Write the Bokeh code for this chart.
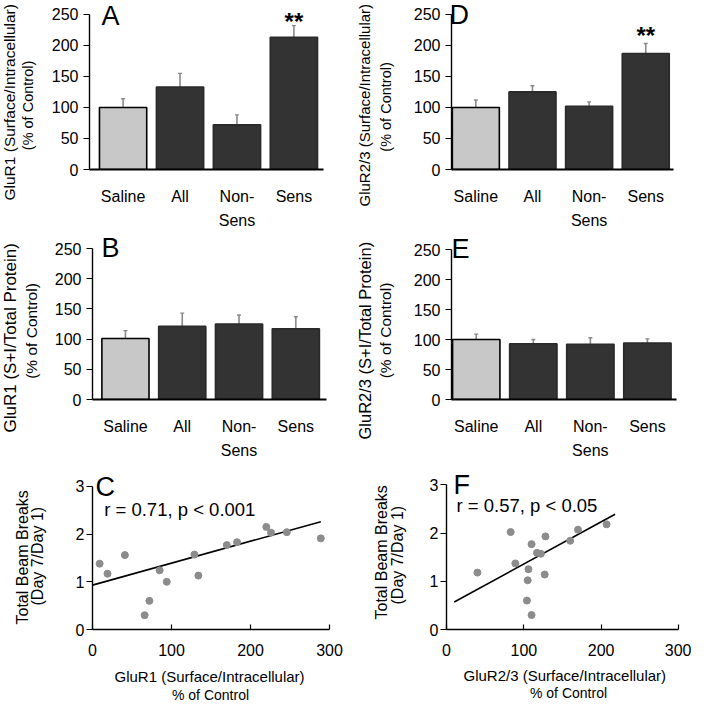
from bokeh.plotting import figure
from bokeh.models import Label, FixedTicker, Range1d, ColumnDataSource, Title
from bokeh.layouts import column, row
from bokeh.embed import file_html
from bokeh.resources import INLINE

FONT = "Liberation Sans"

# ---------------- data ----------------
categories = ["Saline", "All", "Non-\nSens", "Sens"]
cat_pos = [0, 1, 2, 3]

a_mean = [100, 133, 72, 213]
a_err = [14, 22, 16, 19]
b_mean = [101, 121, 125, 117]
b_err = [13, 22, 15, 20]
d_mean = [100, 125, 102, 187]
d_err = [12, 10, 7, 16]
e_mean = [100, 93, 92, 94]
e_err = [9, 7, 11, 7]

bar_ticks = [0, 50, 100, 150, 200, 250]

c_x = [9, 19, 41, 66, 72, 85, 94, 129, 134, 170, 183, 220, 226, 246, 289]
c_y = [1.38, 1.17, 1.56, 0.30, 0.60, 1.24, 1.00, 1.57, 1.13, 1.77, 1.83, 2.15, 2.03, 2.04, 1.91]
c_fit_x = [0, 289]
c_fit_y = [0.93, 2.26]

f_x = [40, 83, 89, 106, 105, 104, 110, 110, 117, 122, 127, 128, 160, 170, 207]
f_y = [1.18, 2.02, 1.37, 1.25, 1.02, 0.60, 0.30, 1.77, 1.59, 1.57, 1.14, 1.93, 1.84, 2.07, 2.18]
f_fit_x = [10, 218]
f_fit_y = [0.57, 2.39]

scatter_xticks = [0, 100, 200, 300]
scatter_yticks = [0, 1, 2, 3]

SALINE_FILL = "#c8c8c8"
DARK_FILL = "#333333"
ERR_COLOR = "#8a8a8a"
DOT_COLOR = "#8c8c8c"

# approximate font metrics (Liberation Sans), used only for placing texts
ASC, DESC = 0.905, 0.212
MID = (ASC - DESC) / 2


# ---------------- helpers ----------------
def make_fig(w, h, left, fw, fh, xr, ymax, top_px, zero_px, ybounds):
    yend = ymax * fh / (zero_px - top_px)
    p = figure(width=w, height=h, x_range=Range1d(*xr), y_range=Range1d(0, yend),
               min_border_left=left, min_border_top=0,
               min_border_right=w - left - fw, min_border_bottom=h - fh,
               output_backend="svg", toolbar_location=None, tools="", title=None)
    p.outline_line_color = None
    p.xgrid.visible = False
    p.ygrid.visible = False
    p.background_fill_color = "white"
    p.border_fill_color = "white"
    for ax in (p.xaxis[0], p.yaxis[0]):
        ax.axis_line_color = "black"
        ax.axis_line_width = 1.4
        ax.major_tick_line_color = "black"
        ax.major_tick_line_width = 1.2
        ax.minor_tick_line_color = None
        ax.major_label_text_font = FONT
        ax.major_label_text_font_size = "16px"
        ax.major_label_text_color = "black"
    p.yaxis.bounds = ybounds
    g = dict(left=left, top=0, fw=fw, fh=fh, xr=xr, yr=(0, yend))
    return p, g


def to_data(g, px, py):
    x0, x1 = g["xr"]
    y0, y1 = g["yr"]
    x = x0 + (px - g["left"]) / g["fw"] * (x1 - x0)
    y = y1 - (py - g["top"]) / g["fh"] * (y1 - y0)
    return x, y


def add_text(p, g, px, baseline_py, text, size, align="left", bold=False, data_x=None):
    # anchor on the middle of the em box, computed from the wanted baseline
    x, y = to_data(g, px, baseline_py - MID * size)
    if data_x is not None:
        x = data_x
    p.add_layout(Label(x=x, y=y, text=text, text_font=FONT,
                       text_font_size=f"{size}px",
                       text_align=align, text_baseline="middle",
                       text_font_style="bold" if bold else "normal",
                       text_color="black"))


def title(text, size, offset, standoff):
    return Title(text=text, align="left", offset=offset, standoff=standoff,
                 text_font=FONT, text_font_size=f"{size}px",
                 text_font_style="normal", text_color="black")


def left_titles(p, g, axis_w, inner, outer):
    """inner/outer: (text, size, baseline_px, start_px) ; rotated labels on the left."""
    xa = g["left"] - axis_w
    t_i, sz_i, base_i, start_i = inner
    t_o, sz_o, base_o, start_o = outer
    h_i = (ASC + DESC) * sz_i
    s_i = 2 * (xa - DESC * sz_i - base_i)
    inner_left = xa - 2 - h_i - s_i
    if inner_left < 0:
        s_i += inner_left
        inner_left = 0
    s_o = 2 * (inner_left - DESC * sz_o - base_o)
    bottom = g["fh"]
    p.add_layout(title(t_i, sz_i, bottom - start_i, s_i), "left")
    p.add_layout(title(t_o, sz_o, bottom - start_o, s_o), "left")


def below_titles(p, g, axis_h, first, second):
    """first/second: (text, size, baseline_px, start_x_px)"""
    top_edge = g["fh"] + axis_h
    t1, sz1, base1, x1 = first
    t2, sz2, base2, x2 = second
    s1 = 2 * (base1 - top_edge - 2 - ASC * sz1)
    edge2 = top_edge + 2 + (ASC + DESC) * sz1 + s1
    s2 = 2 * (base2 - edge2 - 2 - ASC * sz2)
    p.add_layout(title(t1, sz1, x1 - g["left"], s1), "below")
    p.add_layout(title(t2, sz2, x2 - g["left"], s2), "below")


def bar_panel(w, h, left, fw, fh, xr, top_px, zero_px, means, errs):
    p, g = make_fig(w, h, left, fw, fh, xr, 250, top_px, zero_px, (0, 250))
    tops = [m + e for m, e in zip(means, errs)]
    src = ColumnDataSource(dict(
        x=cat_pos, top=means, etop=tops,
        cap0=[x - 0.035 for x in cat_pos], cap1=[x + 0.035 for x in cat_pos],
        fill=[SALINE_FILL] + [DARK_FILL] * 3,
        line=["#000000"] + ["#2a2a2a"] * 3,
    ))
    p.segment(x0="x", y0="top", x1="x", y1="etop", source=src,
              line_color=ERR_COLOR, line_width=1.6)
    p.segment(x0="cap0", y0="etop", x1="cap1", y1="etop", source=src,
              line_color=ERR_COLOR, line_width=1.4)
    p.vbar(x="x", top="top", bottom=0, width=0.83, source=src,
           fill_color="fill", line_color="line", line_width=1.6)
    p.xaxis.ticker = FixedTicker(ticks=cat_pos)
    p.xaxis.major_label_overrides = {k: v for k, v in zip(cat_pos, categories)}
    p.xaxis.major_tick_out = 0
    p.xaxis.major_tick_in = 0
    p.xaxis.major_tick_line_color = None
    p.xaxis.major_label_standoff = 18
    p.xaxis.major_label_text_line_height = 1.45
    p.xaxis.axis_line_width = 1.8
    p.yaxis.ticker = FixedTicker(ticks=bar_ticks)
    p.yaxis.major_tick_out = 6
    p.yaxis.major_tick_in = 0
    p.yaxis.major_label_standoff = 5
    return p, g


def scatter_panel(w, h, left, fw, fh, top_px, zero_px, xs, ys, fx, fy):
    p, g = make_fig(w, h, left, fw, fh, (0, 300), 3, top_px, zero_px, (0, 3))
    p.line(fx, fy, line_color="black", line_width=1.6)
    p.scatter(xs, ys, size=7, fill_color=DOT_COLOR, line_color=DOT_COLOR)
    p.xaxis.ticker = FixedTicker(ticks=scatter_xticks)
    p.xaxis.major_tick_in = 5
    p.xaxis.major_tick_out = 0
    p.xaxis.major_label_standoff = 14
    p.yaxis.ticker = FixedTicker(ticks=scatter_yticks)
    p.yaxis.major_tick_out = 6
    p.yaxis.major_tick_in = 0
    p.yaxis.major_label_standoff = 2
    return p, g


LW, RW = 344, 347
H1, H2, H3 = 232, 232, 239
BAR_AXIS_W = 6 + 5 + 3 * 0.556 * 16
SC_AXIS_W = 6 + 2 + 0.556 * 16
SC_AXIS_H = 14 + (ASC + DESC) * 16

# ---------------- panel A ----------------
pA, gA = bar_panel(LW, H1, 89, 234, 170, (-0.59, 3.52), 14, 170, a_mean, a_err)
add_text(pA, gA, 101, 24.5, "A", 27)
add_text(pA, gA, 0, 29, "**", 24, align="center", bold=True, data_x=3)
left_titles(pA, gA, BAR_AXIS_W,
            ("(% of Control)", 14.5, 36, 150.7),
            ("GluR1 (Surface/Intracellular)", 15.5, 17, 201))

# ---------------- panel D ----------------
pD, gD = bar_panel(RW, H1, 107, 222, 171, (-0.43, 3.49), 14, 171, d_mean, d_err)
add_text(pD, gD, 105, 24.5, "D", 27)
add_text(pD, gD, 0, 44, "**", 24, align="center", bold=True, data_x=3)
left_titles(pD, gD, BAR_AXIS_W,
            ("(% of Control)", 14.5, 50, 153.2),
            ("GluR2/3 (Surface/Intracellular)", 15, 28, 208))

# ---------------- panel B ----------------
pB, gB = bar_panel(LW, H2, 92, 234, 167, (-0.58, 3.54), 16, 167, b_mean, b_err)
add_text(pB, gB, 101, 25, "B", 27)
left_titles(pB, gB, BAR_AXIS_W,
            ("(% of Control)", 15.5, 40, 146.3),
            ("GluR1 (S+I/Total Protein)", 17, 19, 200))

# ---------------- panel E ----------------
pE, gE = bar_panel(RW, H2, 107, 225, 167, (-0.434, 3.51), 17, 167, e_mean, e_err)
add_text(pE, gE, 107, 26, "E", 27)
left_titles(pE, gE, BAR_AXIS_W,
            ("(% of Control)", 15.5, 50, 145.8),
            ("GluR2/3 (S+I/Total Protein)", 16.5, 29, 207))

# ---------------- panel C ----------------
pC, gC = scatter_panel(LW, H3, 92, 237, 166, 22, 166, c_x, c_y, c_fit_x, c_fit_y)
add_text(pC, gC, 95, 32, "C", 27)
add_text(pC, gC, 103.7, 52, "r = 0.71, p < 0.001", 18.5)
left_titles(pC, gC, SC_AXIS_W,
            ("(Day 7/Day 1)", 16, 45, 142),
            ("Total Beam Breaks", 16, 29, 161))
below_titles(pC, gC, SC_AXIS_H,
             ("GluR1 (Surface/Intracellular)", 15, 221, 114),
             ("% of Control", 14, 236, 171.5))

# ---------------- panel F ----------------
pF, gF = scatter_panel(RW, H3, 102, 232, 165, 20, 164.7, f_x, f_y, f_fit_x, f_fit_y)
add_text(pF, gF, 109, 30, "F", 27)
add_text(pF, gF, 112, 47, "r = 0.57, p < 0.05", 18.5)
left_titles(pF, gF, SC_AXIS_W,
            ("(Day 7/Day 1)", 16, 61, 140),
            ("Total Beam Breaks", 16, 44, 155))
below_titles(pF, gF, SC_AXIS_H,
             ("GluR2/3 (Surface/Intracellular)", 15, 219, 119),
             ("% of Control", 14, 236, 185.5))

layout = column(row(pA, pD), row(pB, pE), row(pC, pF))

with open("out.html", "w") as fh:
    fh.write(file_html(layout, INLINE))
